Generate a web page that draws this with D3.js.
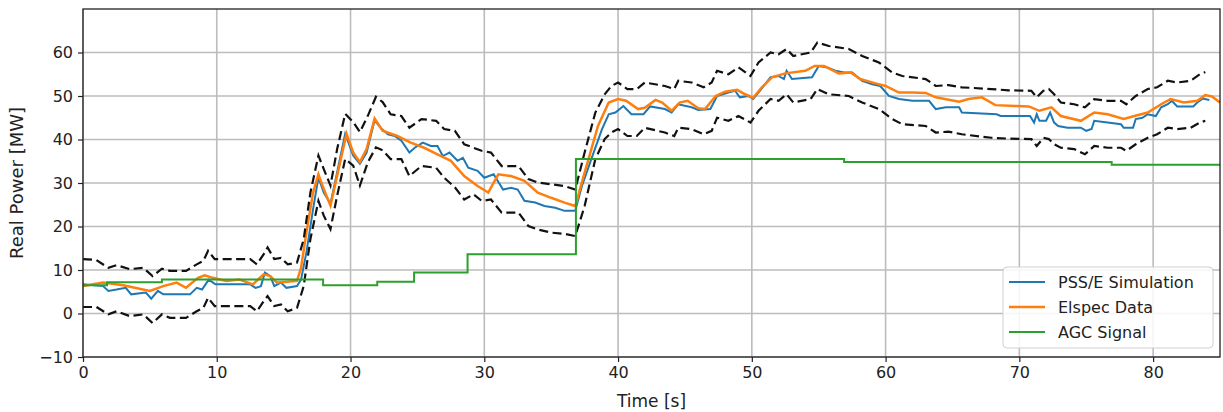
<!DOCTYPE html>
<html>
<head>
<meta charset="utf-8">
<script src="https://cdn.jsdelivr.net/npm/d3@7.9.0/dist/d3.min.js"></script>
<style>
  body { margin: 0; background: #fff; }
  svg { display: block; font-family: 'DejaVu Sans', sans-serif; }
</style>
</head>
<body>
<svg id="chart" width="1223" height="412"></svg>
<script>
// PSS/E simulation (blue)
const simTime = [0, 1.5, 1.9, 2.5, 3.2, 3.6, 4.7, 5.1, 5.6, 6, 8, 8.5, 8.9, 9.4, 9.9, 12.5, 12.9, 13.3, 13.6, 14, 14.3, 14.8, 15.2, 16, 16.3, 16.7, 17.2, 17.6, 18, 18.5, 19, 19.6, 20.2, 20.7, 21.2, 21.8, 22.3, 22.8, 23.3, 23.8, 24.4, 24.8, 25.4, 26, 26.5, 26.9, 27.4, 28, 28.4, 28.8, 29.5, 30, 30.7, 31.4, 32, 32.5, 33, 33.8, 34.5, 35.3, 36, 36.8, 37.3, 38, 38.8, 39.3, 39.8, 40.4, 41, 41.9, 42.4, 43.5, 44, 44.5, 45.5, 46, 46.9, 47.4, 48.25, 48.75, 49.1, 49.75, 50.1, 50.6, 51.4, 52, 52.4, 52.6, 53, 54.5, 55, 55.6, 56.25, 56.9, 57.5, 58.25, 59, 59.6, 60.25, 61, 62, 63.25, 63.75, 64.5, 65.5, 65.7, 68.3, 68.6, 70.8, 71.1, 71.3, 71.5, 72, 72.3, 72.6, 72.9, 73.6, 74.6, 75, 75.4, 75.6, 76.6, 77.6, 77.8, 78.5, 78.7, 79.2, 79.6, 80.2, 80.6, 81.1, 81.4, 81.8, 83, 83.3, 83.7, 84.2];
const simPower = [6.7, 6.3, 5.2, 5.5, 5.9, 4.4, 4.8, 3.4, 5.2, 4.4, 4.4, 5.9, 5.5, 7.8, 6.7, 6.7, 5.9, 6.3, 9.4, 8.6, 6.3, 7.1, 5.9, 6.3, 7.8, 14, 24, 31.3, 27.8, 25.2, 32.5, 41.3, 36.3, 34.4, 37, 44.4, 42.5, 41.2, 40.8, 39.7, 37, 38.1, 39.3, 38.5, 38.5, 36.2, 37, 35.1, 35.8, 33.5, 32.8, 31.2, 32, 28.5, 28.9, 28.5, 25.9, 25.5, 24.7, 24.3, 23.6, 23.6, 29.3, 35.5, 42.4, 45.8, 46.2, 47.7, 45.8, 45.8, 47.6, 47, 46.2, 48.1, 47.4, 46.8, 47, 50, 50.8, 51.2, 49.7, 50, 49.3, 51.2, 54.3, 54.6, 53.9, 55.8, 53.9, 54.3, 56.9, 56.6, 55.8, 55.4, 55.4, 53.5, 52.7, 52.3, 50, 49.3, 48.9, 48.9, 47, 47.4, 47.4, 46.2, 45.8, 45.4, 45.4, 43.9, 45.8, 44.3, 44.3, 46.2, 43.9, 43.1, 42.7, 42.7, 42, 42.4, 44.3, 43.9, 43.5, 42.7, 42.7, 44.7, 45, 45.8, 45.4, 47.4, 48.1, 48.9, 47.6, 47.6, 48.5, 49.4, 49.1];

// Elspec measurement (orange)
const measTime = [0, 1.5, 3, 5, 6, 7, 7.7, 8.6, 9.1, 9.7, 10.7, 11.7, 12.7, 13.5, 14, 14.5, 16, 16.3, 16.7, 17.2, 17.6, 18, 18.5, 19, 19.7, 20.2, 20.7, 21.2, 21.8, 22.4, 23.5, 24.5, 25.5, 26.5, 27.5, 28.5, 29.5, 30.3, 30.7, 31.05, 32, 33, 34, 35, 36, 36.8, 37.5, 38.5, 39.3, 40, 40.6, 41.5, 42, 42.8, 43.3, 44, 44.6, 45.2, 46, 46.5, 47.3, 48, 48.9, 49.5, 50.1, 50.75, 51.5, 52.5, 54, 54.7, 55.4, 56.5, 57.4, 58.1, 59.25, 60, 61, 62, 63, 63.75, 65.5, 66.2, 67.2, 68.2, 69.7, 70.7, 71.5, 72.4, 73.1, 74.6, 75.6, 76.6, 77.8, 78.6, 79.6, 80.6, 81.3, 82.3, 83.3, 83.9, 84.4, 85];
const measPower = [6.3, 7.1, 6.5, 5.2, 6.3, 7.1, 5.9, 8.2, 8.8, 8.2, 7.5, 7.8, 6.7, 9, 8.6, 7.1, 7.5, 10.5, 18.6, 27.8, 32, 28.6, 24.8, 31.7, 41.3, 37, 34.8, 37.8, 44.8, 42, 40.8, 39.3, 38.1, 36.6, 35.1, 31.6, 29.3, 27.8, 30.1, 32, 31.6, 30.5, 27.8, 26.6, 25.5, 24.7, 32.4, 43.1, 48.5, 49.3, 48.9, 47, 47.3, 49.1, 48.5, 46.6, 48.5, 48.9, 47.2, 47, 50, 51, 51.4, 50.4, 49.6, 52, 54.3, 55.2, 55.8, 56.9, 56.9, 55.2, 55.4, 53.9, 52.9, 52.3, 50.8, 50.8, 50.7, 49.7, 48.7, 49.3, 49.7, 47.9, 47.7, 47.6, 46.6, 47.4, 45.4, 44.3, 46.2, 45.8, 44.7, 45.4, 46.2, 48.1, 49.3, 48.5, 48.9, 50.2, 49.9, 48.5];

// dashed envelope, upper and lower
const upperTime = [0, 1, 1.9, 2.5, 3.5, 4.5, 5.2, 5.9, 6.5, 7.7, 8.5, 9, 9.35, 9.85, 12.5, 13, 13.5, 13.8, 14.3, 14.8, 15.3, 16, 16.5, 17, 17.6, 18, 18.5, 19, 19.6, 20.2, 20.7, 21.3, 21.9, 22.4, 23, 23.8, 24.4, 25.3, 26.4, 27, 27.8, 28.5, 29.2, 29.8, 30.5, 31.3, 32.55, 33.3, 34, 35, 36, 36.8, 37.5, 38.3, 39, 39.5, 40, 40.7, 41.4, 42, 43.5, 44.2, 44.5, 45.5, 46.4, 47, 47.4, 48.25, 49, 49.9, 50.5, 51.4, 52, 52.6, 53.1, 54.4, 54.9, 55.75, 57.25, 58.25, 59.5, 60.5, 61.25, 63, 63.75, 64.7, 65.7, 67.9, 69.2, 70.9, 71.3, 71.8, 72.2, 72.6, 73.1, 74.1, 74.9, 75.6, 76.6, 77.6, 78, 78.7, 79.6, 80.3, 81.1, 81.8, 82.8, 83.5, 83.9];
const upperPower = [12.5, 12.3, 10.5, 11.1, 10.2, 10.5, 8.6, 10.3, 9.8, 9.8, 11.3, 12.1, 14.4, 12.5, 12.5, 11.3, 13.6, 15.2, 12.5, 12.8, 11.3, 11.7, 17.1, 27.8, 36.3, 33.2, 29.4, 37.8, 45.9, 44, 41.7, 45.5, 49.8, 48.6, 45.8, 45.4, 42.7, 44.7, 44.3, 42.4, 42, 38.9, 38.1, 37.4, 37, 33.9, 33.9, 30.9, 30.1, 29.7, 29.3, 28.5, 37, 46.2, 50.4, 52.3, 53.1, 51.6, 51.6, 53.1, 52.3, 51.6, 53.5, 53.1, 52, 53.1, 55.8, 55, 56.6, 54.6, 57.7, 60, 59.6, 60.8, 59.2, 60, 62.3, 61.5, 60.8, 59.2, 57.7, 55.4, 54.6, 53.9, 52.3, 52.5, 52, 51.6, 51.3, 51.2, 49.7, 51.2, 51.6, 50.4, 48.5, 48.1, 47.4, 49.3, 48.9, 48.9, 48.1, 50, 51.6, 52, 53.5, 53.1, 53.5, 55, 55.5];
const lowerTime = upperTime;
const lowerPower = [1.5, 1.5, -0.2, 0.5, -0.6, -0.2, -2.2, -0.2, -1, -1, 0.5, 1.3, 3.6, 1.7, 1.7, 0.5, 2.8, 4, 1.7, 2.1, 0.5, 1.3, 6.3, 17.1, 25.9, 22.5, 19.4, 27.1, 35.5, 34, 29.4, 34.8, 38.2, 37.5, 35.5, 35.5, 31.6, 33.9, 33.5, 31.2, 29, 26.2, 27.4, 25.9, 26.2, 23.2, 23.2, 20.1, 19.3, 18.6, 18.3, 17.8, 24.7, 35.5, 40.1, 41.6, 42.4, 40.8, 40.8, 42.7, 41.6, 40.8, 42.7, 42.4, 41.2, 42, 45, 44.3, 45.4, 43.9, 46.6, 49.3, 48.9, 50.4, 48.5, 49.3, 51.6, 50.4, 50, 48.5, 47, 44.7, 43.5, 43.1, 41.6, 41.8, 41.2, 40.4, 40.2, 40.1, 38.5, 40.4, 40.1, 38.9, 38.1, 37.8, 36.6, 38.5, 38.1, 38.1, 37.4, 38.9, 40.4, 41.2, 42.7, 42.4, 42.7, 43.9, 44.3];

// AGC set point (green, steps)
const agcTime = [0, 1.8, 5.9, 17.95, 22, 24.75, 28.75, 36.85, 56.9, 76.9, 85];
const agcPower = [6.5, 7.2, 7.8, 6.5, 7.3, 9.4, 13.6, 35.5, 34.8, 34.2, 34.2];

const xTicks = [0, 10, 20, 30, 40, 50, 60, 70, 80];
const yTicks = [-10, 0, 10, 20, 30, 40, 50, 60];
const legendLabels = ['PSS/E Simulation', 'Elspec Data', 'AGC Signal'];
const colors = ['#1f77b4', '#ff7f0e', '#2ca02c'];

const margin = { top: 9, right: 3, bottom: 55, left: 83 };
const width = 1223 - margin.left - margin.right;
const height = 412 - margin.top - margin.bottom;

const svg = d3.select('#chart');
const g = svg.append('g').attr('transform', `translate(${margin.left},${margin.top})`);

const x = d3.scaleLinear().domain([0, 85]).range([0, width]);
const y = d3.scaleLinear().domain([-10, 70]).range([height, 0]);

// grid
g.append('g').selectAll('line').data(xTicks).join('line')
  .attr('x1', d => x(d)).attr('x2', d => x(d)).attr('y1', 0).attr('y2', height)
  .attr('stroke', '#bcbcbc').attr('stroke-width', 1.6);
g.append('g').selectAll('line').data(yTicks).join('line')
  .attr('y1', d => y(d)).attr('y2', d => y(d)).attr('x1', 0).attr('x2', width)
  .attr('stroke', '#bcbcbc').attr('stroke-width', 1.6);

const zip = (ts, vs) => ts.map((t, i) => [t, vs[i]]);
const line = d3.line().x(d => x(d[0])).y(d => y(d[1]));

const plot = g.append('g');
plot.append('path').datum(zip(simTime, simPower))
  .attr('d', line).attr('fill', 'none').attr('stroke', colors[0]).attr('stroke-width', 2);
plot.append('path').datum(zip(measTime, measPower))
  .attr('d', line).attr('fill', 'none').attr('stroke', colors[1]).attr('stroke-width', 2.5);
[zip(upperTime, upperPower), zip(lowerTime, lowerPower)].forEach(dd => {
  plot.append('path').datum(dd)
    .attr('d', line).attr('fill', 'none').attr('stroke', '#111')
    .attr('stroke-width', 2.2).attr('stroke-dasharray', '9,4.5');
});
plot.append('path').datum(zip(agcTime, agcPower))
  .attr('d', line.curve(d3.curveStepAfter)).attr('fill', 'none')
  .attr('stroke', colors[2]).attr('stroke-width', 2);

// axes
const xAxis = g.append('g').attr('transform', `translate(0,${height})`)
  .call(d3.axisBottom(x).tickValues(xTicks).tickSize(5).tickPadding(5));
const yAxis = g.append('g')
  .call(d3.axisLeft(y).tickValues(yTicks).tickSize(5).tickPadding(5).tickFormat(d => d < 0 ? '\u2212' + Math.abs(d) : d));
[xAxis, yAxis].forEach(a => {
  a.select('.domain').remove();
  a.selectAll('text').attr('font-size', 16).attr('fill', '#222').attr('font-family', 'DejaVu Sans');
  a.selectAll('line').attr('stroke', '#222').attr('stroke-width', 1.2);
});

g.append('rect').attr('width', width).attr('height', height)
  .attr('fill', 'none').attr('stroke', '#222').attr('stroke-width', 1.3);

// axis labels
svg.append('text').attr('x', margin.left + x(42.5)).attr('y', 407)
  .attr('text-anchor', 'middle').attr('font-size', 17).attr('fill', '#222').text('Time [s]');
svg.append('text').attr('transform', `translate(23,${margin.top + y(30)}) rotate(-90)`)
  .attr('text-anchor', 'middle').attr('font-size', 18).attr('fill', '#222').text('Real Power [MW]');

// legend
const lg = svg.append('g').attr('transform', 'translate(1003,267)');
lg.append('rect').attr('width', 210).attr('height', 81).attr('rx', 4)
  .attr('fill', '#fff').attr('fill-opacity', 0.85).attr('stroke', '#d0d0d0');
legendLabels.forEach((lab, i) => {
  const yy = 15 + i * 25;
  lg.append('line').attr('x1', 6).attr('x2', 42).attr('y1', yy).attr('y2', yy)
    .attr('stroke', colors[i]).attr('stroke-width', i === 1 ? 2.5 : 2);
  lg.append('text').attr('x', 55).attr('y', yy).attr('dy', '0.35em')
    .attr('font-size', 16).attr('fill', '#222').text(lab);
});
</script>
</body>
</html>
